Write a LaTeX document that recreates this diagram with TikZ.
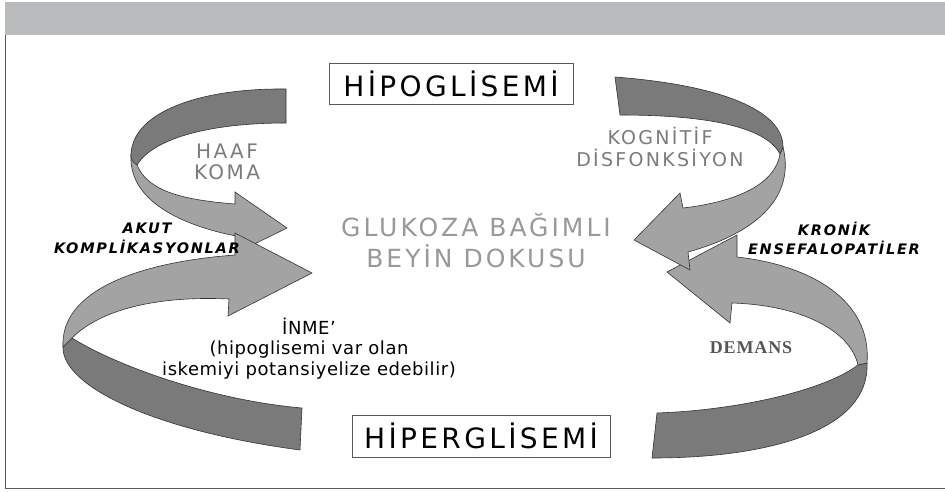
\documentclass[tikz,border=0pt]{standalone}
\usepackage{fontspec}
\setmainfont{DejaVu Sans}
\newfontfamily\comicfont{DejaVu Sans}[LetterSpace=12]
\newfontfamily\notefont{DejaVu Sans}[LetterSpace=3]
\newfontfamily\demansfont{Liberation Serif}[LetterSpace=5]
\definecolor{bandgray}{RGB}{186,187,189}
\definecolor{framegray}{RGB}{90,90,90}
\definecolor{ribbondark}{RGB}{122,122,122}
\definecolor{ribbonlight}{RGB}{163,163,163}
\definecolor{labelgray}{RGB}{135,135,135}
\definecolor{demansgray}{RGB}{85,85,85}
\tikzset{
  backface/.style={draw=black!80, fill=ribbondark, line width=0.6pt},
  frontface/.style={draw=black!80, fill=ribbonlight, line width=0.6pt},
  titlebox/.style={draw=framegray, line width=0.8pt, inner sep=0pt,
    font=\comicfont\fontsize{28}{30}\selectfont},
  graylabel/.style={text=labelgray, align=center},
  sidelabel/.style={align=center, font=\comicfont\bfseries\itshape\fontsize{14.5}{19.5}\selectfont}
}

\begin{document}
\begin{tikzpicture}[x=1pt, y=-1pt]
    \useasboundingbox (0,0) rectangle (945,491);
    \fill[bandgray] (5,2) rectangle (945,35);
    \draw[framegray, line width=0.8pt] (5,35) -- (5,488) -- (945,488);
    \filldraw[frontface] (131,154) .. controls (128,200) and (180,225) .. (236,236) -- (238,252) -- (287,228) -- (235,192) -- (235,204) .. controls (185,200) and (148,192) .. (137,165) -- cycle;
    \filldraw[backface] (286,89) .. controls (200,88) and (131,112) .. (131,156) .. controls (131,160) and (134,163) .. (137,165) .. controls (152,140) and (205,123) .. (286,123) -- cycle;
    \filldraw[backface] (302,408) .. controls (210,400) and (115,365) .. (72,338) -- (63,347) .. controls (62,385) and (150,430) .. (300,450) -- cycle;
    \filldraw[frontface] (63,347) .. controls (60,290) and (140,262) .. (235,255) -- (235,233) -- (312,273) -- (228,316) -- (229,299) .. controls (170,296) and (105,305) .. (72,338) -- cycle;
    \filldraw[backface] (657,413) .. controls (740,410) and (825,390) .. (858,365) -- (867,363) .. controls (870,430) and (770,458) .. (652,458) -- cycle;
    \filldraw[frontface] (867,363) .. controls (872,300) and (810,265) .. (737,257) -- (737,235) -- (667,272) -- (730,323) -- (732,303) .. controls (800,305) and (850,330) .. (858,365) -- cycle;
    \filldraw[frontface] (783,147) .. controls (795,195) and (760,232) .. (688,252) -- (690,270) -- (634,240) -- (680,193) -- (683,208) .. controls (735,202) and (775,185) .. (780,154) -- cycle;
    \filldraw[backface] (615,77) .. controls (720,85) and (783,110) .. (783,147) -- (780,154) .. controls (765,125) and (700,115) .. (620,115) -- cycle;
    \node[titlebox, minimum width=244, minimum height=41] (hipo) at (451,83.5) {HİPOGLİSEMİ};
    \node[titlebox, minimum width=258, minimum height=42] (hiper) at (481,436) {HİPERGLİSEMİ};
    \node[graylabel, font=\comicfont\fontsize{25}{31}\selectfont, text=labelgray!85] (beyin) at (476,241) {GLUKOZA BAĞIMLI\\BEYİN DOKUSU};
    \node[graylabel, font=\comicfont\fontsize{20}{21}\selectfont, text=labelgray!110] (haaf) at (227,162) {HAAF\\KOMA};
    \node[graylabel, font=\comicfont\fontsize{19}{22}\selectfont, text=labelgray!110] (kog) at (660,147) {KOGNİTİF\\DİSFONKSİYON};
    \node[sidelabel] (akut) at (147,238.5) {AKUT\\KOMPLİKASYONLAR};
    \node[sidelabel] (kronik) at (834,238.5) {KRONİK\\ENSEFALOPATİLER};
    \node[align=center, font=\notefont\fontsize{18}{20.5}\selectfont] (inme) at (309,348.5) {İNME’\\(hipoglisemi var olan\\iskemiyi potansiyelize edebilir)};
    \node[text=demansgray, font=\demansfont\bfseries\fontsize{18}{20}\selectfont] (demans) at (751,348) {DEMANS};
\end{tikzpicture}
\end{document}
